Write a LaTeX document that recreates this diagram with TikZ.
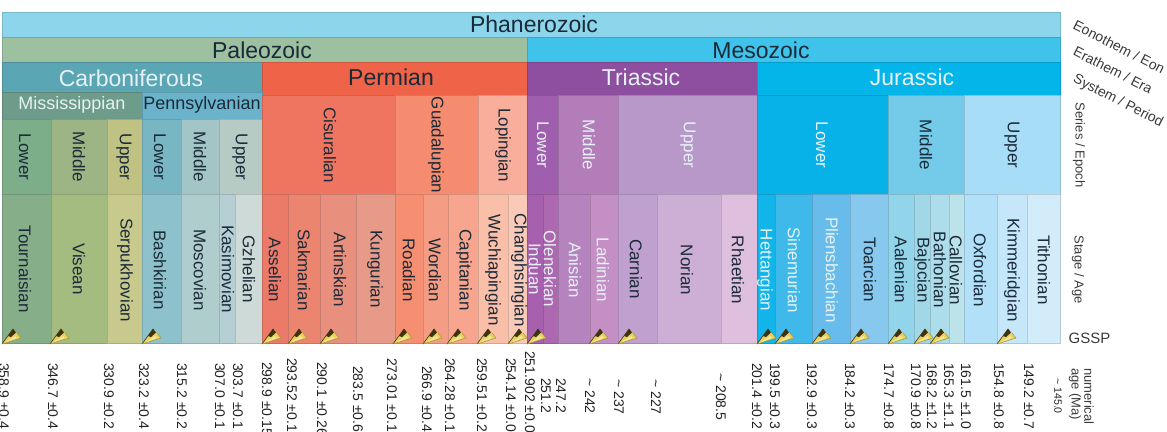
\documentclass[tikz,border=0pt]{standalone}
\usepackage{fontspec}
\setmainfont{Liberation Sans}
\definecolor{ink}{HTML}{1B2A38}
\definecolor{pale}{HTML}{E6F1F4}
\definecolor{sidegray}{HTML}{3A3A3A}
\definecolor{numink}{HTML}{222222}
\definecolor{gold}{HTML}{E9D257}
\definecolor{spikedark}{HTML}{3F3212}
\newcommand{\fsz}[1]{\fontsize{#1}{#1}\selectfont}
\newcommand{\tl}{\textasciitilde}
\newcommand{\cellbox}[6]{%
  \definecolor{cellc}{HTML}{#6}%
  \node[cellstyle,fill=cellc,draw=cellc!86!black,minimum width=#4pt-#2pt,minimum height=#5pt-#3pt,anchor=north west] (#1) at (#2,#3) {};}
\tikzset{
  cellstyle/.style={inner sep=0pt,outer sep=0pt,line width=.5pt,rectangle},
  big/.style={font=\fsz{23},text=#1,inner sep=0pt},
  eplabel/.style={font=\fsz{18},text=#1,inner sep=0pt},
  vlabel/.style={font=\fsz{17},text=#1,xshift=2pt,rotate=-90,inner sep=0pt},
  numlabel/.style={font=\fsz{14},text=numink,rotate=-90,anchor=west,inner sep=0pt},
  sidelabel/.style={font=\fsz{13},text=sidegray,rotate=-90,inner sep=0pt},
  tiltlabel/.style={font=\fsz{14},text=sidegray,rotate=-27,inner sep=0pt},
  goldspike/.pic={
    \fill[gold] (0,0) -- (11,-15) -- (19,-6) -- cycle;
    \draw[spikedark,line width=.6pt,line join=round] (0,0) -- (11,-15) -- (13,-12);
    \draw[gold!70!black,line width=.5pt,line join=round] (0,0) -- (19,-6) -- (15,-11);
    \fill[spikedark] (6,-8) -- (11,-15) -- (14,-11.5) -- (9,-7) -- cycle;
    \fill[gold!55!white] (3,-1.5) -- (13,-8) -- (15,-6) -- cycle;
  }
}
\begin{document}
\begin{tikzpicture}[x=1pt,y=-1pt]
\useasboundingbox (0,0) rectangle (1167,431);
% rows of cells: name / x0 / y0 / x1 / y1 / colour
\foreach \n/\a/\b/\c/\d/\h in {
 eon/2/12/1060/37/8DD5EB,
 pal/2/37/527/62/9CC0A0, mes/527/37/1060/62/40C3EA,
 car/2/62/262/92/5BA6B4, per/262/62/527/95/EF6348, tri/527/62/757/95/8E4FA0, jur/757/62/1060/95/03B5E8,
 mis/2/92/142/119/6E9C8A, pen/142/92/262/119/6BB3CB,
 sa/2/119/51/194/7DAE8A, sb/51/119/107/194/9DB585, sc/107/119/142/194/C0C283,
 sd/142/119/181/194/79B6C3, se/181/119/219/194/A3C5C6, sf/219/119/262/194/B7CBC5,
 sg/262/95/395/194/EF7560, sh/395/95/478/194/F58C70, si/478/95/527/194/F8AE9B,
 sj/527/95/558/194/A05FAE, sk/558/95/618.6/194/B27DB9, sl/618.6/95/757/194/B798C8,
 sm/757/95/888/194/06B2E8, sn/888/95/964/194/74CBE9, so/964/95/1060/194/A8DDF8,
 a1/2/194/51/343/86AF89, a2/51/194/107/343/A4BC80, a3/107/194/142/343/C8C98D,
 a4/142/194/181/343/8DC1CB, a5/181/194/219/343/AFCDCC, a6/219/194/235/343/B5CFD5, a7/235/194/262/343/CDDAD8,
 a8/262/194/288/343/EC7A68, a9/288/194/320/343/EC8570, a10/320/194/356/343/E88F7D, a11/356/194/395/343/E79A88,
 a12/395/194/423/343/F68F72, a13/423/194/448/343/F59D84, a14/448/194/478/343/F7A58E,
 a15/478/194/508/343/F9BFA9, a16/508/194/527/343/FACAB8,
 a17/527/194/543/343/A660AE, a18/543/194/558/343/AD68B0, a19/558/194/590/343/B583BE, a20/590/194/618.6/343/C38FC4,
 a21/618.6/194/657/343/BFA0CE, a22/657/194/721/343/CDAED5, a23/721/194/757/343/DEBFDD,
 a24/757/194/775/343/12B5EA, a25/775/194/812/343/3FB9E9, a26/812/194/850/343/67BCEB, a27/850/194/888/343/86C8EE,
 a28/888/194/914/343/92D4EA, a29/914/194/930/343/A0D8E8, a30/930/194/949/343/ADDDEA, a31/949/194/964/343/BCE2EA,
 a32/964/194/997/343/B2E0F8, a33/997/194/1027/343/C5E7F9, a34/1027/194/1060/343/D2ECF9}
 {\cellbox{\n}{\a}{\b}{\c}{\d}{\h}}
% big labels
\node[big=ink] (lPhan) at (534,24) {Phanerozoic};
\node[big=ink] (lPale) at (262,50) {Paleozoic};
\node[big=ink] (lMeso) at (761,50) {Mesozoic};
\node[big=pale] (lCarb) at (131,78) {Carboniferous};
\node[big=ink] (lPerm) at (391,77) {Permian};
\node[big=pale] (lTria) at (641,77) {Triassic};
\node[big=pale] (lJura) at (912,77) {Jurassic};
\node[eplabel=pale] (lMiss) at (72,105) {Mississippian};
\node[eplabel=ink] (lPenn) at (202,105) {Pennsylvanian};
% series
\foreach \n/\x/\y/\t/\c in {
 v1/23/157/Lower/ink, v2/77/157/Middle/ink, v3/122/157/Upper/ink,
 v4/158/157/Lower/ink, v5/198/157/Middle/ink, v6/238/157/Upper/ink,
 v7/328/145/Cisuralian/ink, v8/434/145/Guadalupian/ink, v9/501/145/Lopingian/ink,
 v10/541/145/Lower/pale, v11/587/145/Middle/pale, v12/686/145/Upper/pale,
 v13/820/145/Lower/pale, v14/924/145/Middle/ink, v15/1010/145/Upper/ink,
% stages
 w1/23/269/Tournaisian/ink, w2/77/269/Visean/ink, w3/123/270/Serpukhovian/ink, w4/158/270/Bashkirian/ink,
 w5/198/270/Moscovian/ink, w6/226/269/Kasimovian/ink, w7/247/269/Gzhelian/ink, w8/273/270/Asselian/ink,
 w9/302/270/Sakmarian/ink, w10/338/270/Artinskian/ink, w11/373/269/Kungurian/ink, w12/407/270/Roadian/ink,
 w13/433/270/Wordian/ink, w14/462/270/Capitanian/ink, w15/491/270/Wuchiapingian/ink, w16/517/270/Changhsingian/ink,
 w17/533/269/Induan/pale, w18/548/269/Olenekian/pale, w19/573/270/Anisian/pale, w20/601/270/Ladinian/pale,
 w21/634/269/Carnian/ink, w22/685/270/Norian/ink, w23/736/270/Rhaetian/ink, w24/763/270/Hettangian/pale,
 w25/792/270/Sinemurian/pale, w26/830/270/Pliensbachian/pale, w27/868/270/Toarcian/ink, w28/899/270/Aalenian/ink,
 w29/920/270/Bajocian/ink, w30/938/270/Bathonian/ink, w31/954/270/Callovian/ink, w32/978/270/Oxfordian/ink,
 w33/1010/270/Kimmeridgian/ink, w34/1042/270/Tithonian/ink}
 {\node[vlabel=\c] (\n) at (\x,\y) {\t};}
% spikes
\foreach \x in {2,50,142,262,288,320,393,423,447,477,508,527,589,618,757,775,812,850,888,914,930,997}
 {\pic at (\x,344) {goldspike};}
% numbers
\foreach \n/\x/\y/\t in {
 n1/4/363/358.9 ±0.4, n2/53/363/346.7 ±0.4, n3/109/363/330.9 ±0.2, n4/144/363/323.2 ±0.4, n5/182/363/315.2 ±0.2,
 n6/220/363/307.0 ±0.1, n7/238/363/303.7 ±0.1, n8/267/362/298.9 ±0.15, n9/292/358/293.52 ±0.1, n10/322/362/290.1 ±0.26,
 n11/358/366/283.5 ±0.6, n12/392/358/273.01 ±0.1, n13/427/366/266.9 ±0.4, n14/450/358/264.28 ±0.1, n15/482/358/259.51 ±0.2,
 n16/511/358/254.14 ±0.0, n17/530/351/251.902 ±0.0, n18/546/378/251.2, n19/561/378/247.2, n20/590/378/\tl{} 242,
 n21/619/379/\tl{} 237, n22/656/379/\tl{} 227, n23/721/373/\tl{} 208.5, n24/757/363/201.4 ±0.2, n25/775/363/199.5 ±0.3,
 n26/812/363/192.9 ±0.3, n27/850/363/184.2 ±0.3, n28/889/363/174.7 ±0.8, n29/916/363/170.9 ±0.8, n30/932/363/168.2 ±1.2,
 n31/949/363/165.3 ±1.1, n32/966/363/161.5 ±1.0, n33/999/363/154.8 ±0.8, n34/1029/363/149.2 ±0.7}
 {\node[numlabel] (\n) at (\x,\y) {\t};}
\node[numlabel,font=\fsz{10.6}] (n35) at (1058,378) {\tl{} 145.0};
\node[numlabel,font=\fsz{13},text=sidegray] (n36) at (1089,368) {numerical};
\node[numlabel,font=\fsz{13},text=sidegray] (n37) at (1075,368) {age (Ma)};
% side labels
\node[sidelabel] (sSeries) at (1079,145) {Series / Epoch};
\node[sidelabel] (sStage) at (1078,269.5) {Stage / Age};
\node[font=\fsz{15},text=sidegray,inner sep=0pt] (sGSSP) at (1089.5,338) {GSSP};
\node[tiltlabel] (tEon) at (1119,47) {Eonothem / Eon};
\node[tiltlabel] (tEra) at (1113,70) {Erathem / Era};
\node[tiltlabel] (tSys) at (1118,101) {System / Period};
\end{tikzpicture}
\end{document}
